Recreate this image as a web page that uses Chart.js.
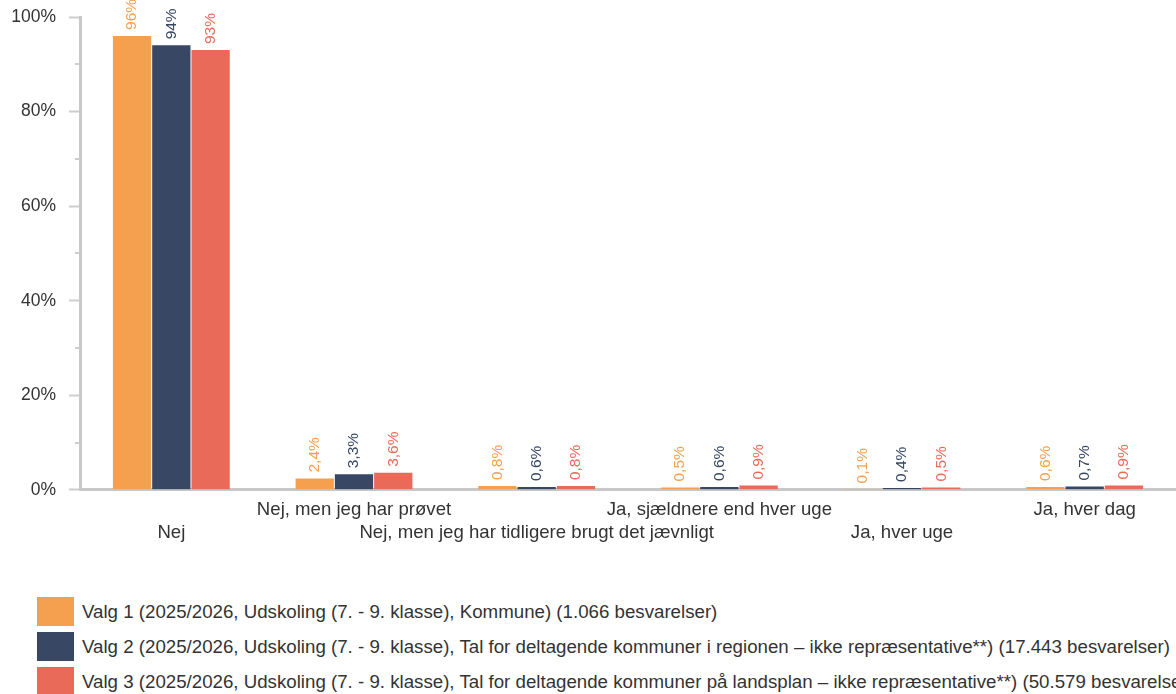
<!DOCTYPE html>
<html>
<head>
<meta charset="utf-8">
<script src="https://cdn.jsdelivr.net/npm/chart.js@4.4.1/dist/chart.umd.min.js"></script>
<style>
  body { margin: 0; background: #fff; font-family: "Liberation Sans", Arial, sans-serif; }
  #wrap { position: relative; width: 1176px; height: 694px; overflow: hidden; }
  #chartBox { position: absolute; left: 0; top: 0; width: 1176px; height: 552px; }
  #legend { position: absolute; left: 37px; top: 597px; white-space: nowrap; }
  .item { display: flex; align-items: center; height: 29px; margin-bottom: 6px; font-size: 18.7px; color: #333; }
  .box { width: 37px; height: 29px; margin-right: 8px; flex: none; }
</style>
</head>
<body>
<div id="wrap">
  <div id="chartBox"><canvas id="categoryChart"></canvas></div>
  <div id="legend"></div>
</div>
<script>
// Answer categories
const categories = [
    'Nej',
    'Nej, men jeg har prøvet',
    'Nej, men jeg har tidligere brugt det jævnligt',
    'Ja, sjældnere end hver uge',
    'Ja, hver uge',
    'Ja, hver dag'
];

// Share of answers in percent
const valg1 = [96, 2.4, 0.8, 0.5, 0.1, 0.6];
const valg2 = [94, 3.3, 0.6, 0.6, 0.4, 0.7];
const valg3 = [93, 3.6, 0.8, 0.9, 0.5, 0.9];

const seriesNames = [
    'Valg 1 (2025/2026, Udskoling (7. - 9. klasse), Kommune) (1.066 besvarelser)',
    'Valg 2 (2025/2026, Udskoling (7. - 9. klasse), Tal for deltagende kommuner i regionen – ikke repræsentative**) (17.443 besvarelser)',
    'Valg 3 (2025/2026, Udskoling (7. - 9. klasse), Tal for deltagende kommuner på landsplan – ikke repræsentative**) (50.579 besvarelser)'
];
const seriesColors = ['#f5a04f', '#384764', '#ea6a5a'];

// y axis: labelled every 20%, small marks in between
const yTicks = [0, 20, 40, 60, 80, 100];
const yMinorTicks = [10, 30, 50, 70, 90];

const FONT = '"Liberation Sans", Arial, sans-serif';

function fmt(v) {
    if (v >= 10) return Math.round(v) + '%';
    return v.toFixed(1).replace('.', ',') + '%';
}

// rotated value labels above each bar
const barLabels = {
    id: 'barLabels',
    afterDatasetsDraw(chart) {
        const ctx = chart.ctx;
        ctx.save();
        ctx.font = '15.5px ' + FONT;
        ctx.textAlign = 'left';
        ctx.textBaseline = 'middle';
        chart.data.datasets.forEach((ds, di) => {
            chart.getDatasetMeta(di).data.forEach((bar, i) => {
                ctx.save();
                ctx.translate(bar.x, bar.y - 6);
                ctx.rotate(-Math.PI / 2);
                ctx.fillStyle = ds.backgroundColor;
                ctx.fillText(fmt(ds.data[i]), 0, 0);
                ctx.restore();
            });
        });
        ctx.restore();
    }
};

// short minor tick marks on the y axis
const minorTicks = {
    id: 'minorTicks',
    afterDraw(chart) {
        const y = chart.scales.y;
        const ctx = chart.ctx;
        ctx.save();
        ctx.strokeStyle = '#cccccc';
        ctx.lineWidth = 2;
        yMinorTicks.forEach(v => {
            const py = Math.round(y.getPixelForValue(v));
            ctx.beginPath();
            ctx.moveTo(y.right - 5, py);
            ctx.lineTo(y.right, py);
            ctx.stroke();
        });
        ctx.restore();
    }
};

const ctx = document.getElementById('categoryChart').getContext('2d');
const chart = new Chart(ctx, {
    type: 'bar',
    data: {
        labels: categories,
        datasets: [valg1, valg2, valg3].map((d, i) => ({
            label: seriesNames[i],
            data: d,
            backgroundColor: seriesColors[i],
            categoryPercentage: 0.645,
            barPercentage: 0.975
        }))
    },
    options: {
        responsive: true,
        maintainAspectRatio: false,
        animation: false,
        layout: { padding: { top: 17, right: 0, bottom: 0, left: 0 } },
        plugins: {
            legend: { display: false },
            tooltip: { enabled: false }
        },
        scales: {
            x: {
                grid: { display: false, drawTicks: false },
                border: { color: '#c8c8c8', width: 3 },
                ticks: {
                    autoSkip: false,
                    maxRotation: 0,
                    padding: 8,
                    color: '#333',
                    font: { family: FONT, size: 18.6, lineHeight: 1.24 },
                    callback: (v, i) => i % 2 === 0 ? ['', categories[i]] : categories[i]
                }
            },
            y: {
                min: 0,
                max: 100,
                afterFit: s => { s.width = 80; s.paddingTop = 0; },
                afterBuildTicks: s => { s.ticks = yTicks.map(v => ({ value: v })); },
                grid: { drawOnChartArea: false, tickLength: 11, tickColor: '#cccccc', tickWidth: 2 },
                border: { color: '#c8c8c8', width: 3 },
                ticks: {
                    padding: 13,
                    color: '#333',
                    font: { family: FONT, size: 17.5 },
                    callback: v => v + '%'
                }
            }
        }
    },
    plugins: [barLabels, minorTicks]
});

// legend rows under the chart
const legend = document.getElementById('legend');
chart.data.datasets.forEach(ds => {
    const row = document.createElement('div');
    row.className = 'item';
    const box = document.createElement('span');
    box.className = 'box';
    box.style.background = ds.backgroundColor;
    const txt = document.createElement('span');
    txt.textContent = ds.label;
    row.appendChild(box);
    row.appendChild(txt);
    legend.appendChild(row);
});
</script>
</body>
</html>
